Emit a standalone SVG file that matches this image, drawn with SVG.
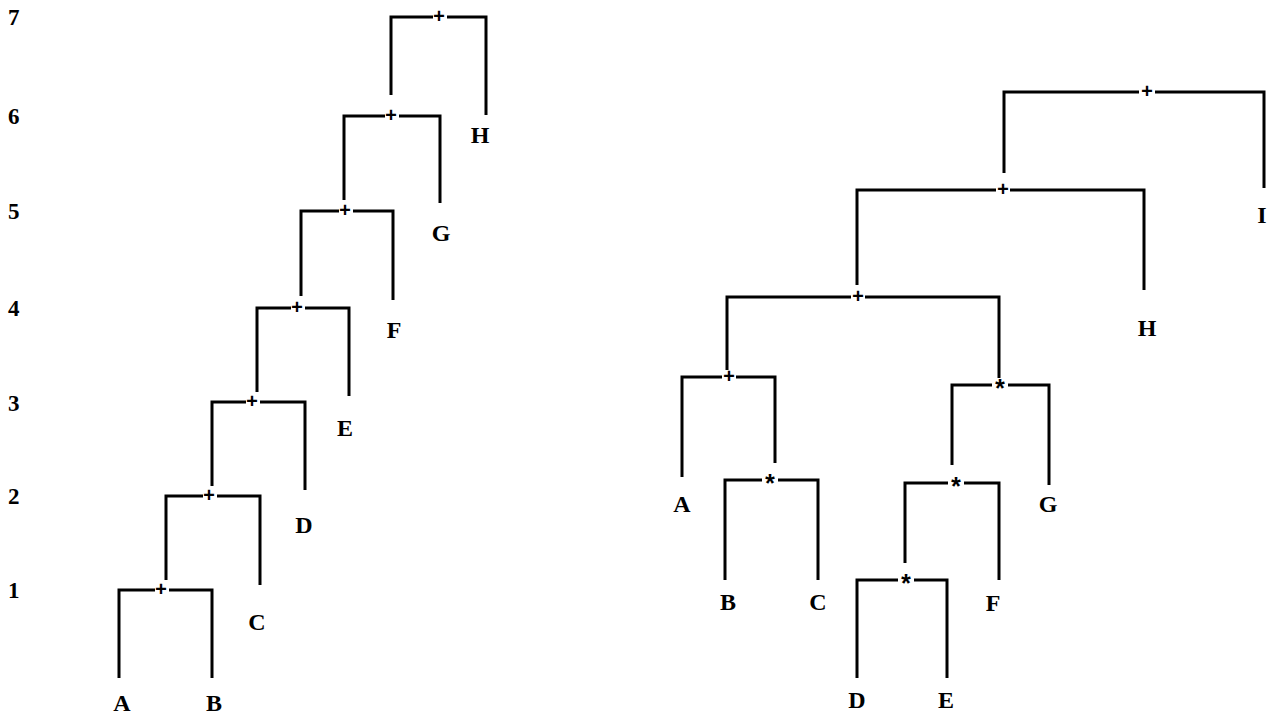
<svg xmlns="http://www.w3.org/2000/svg" width="1279" height="717" viewBox="0 0 1279 717">
  <style>
    .br { fill: none; stroke: #000; stroke-width: 3; stroke-linejoin: miter; stroke-linecap: butt; }
    .lbl { font-family: "Liberation Serif", "DejaVu Serif", serif; font-size: 24px; font-weight: bold; fill: #000; text-anchor: middle; }
    .op { font-family: "Liberation Mono", "DejaVu Sans Mono", monospace; font-size: 20px; font-weight: bold; fill: #000; text-anchor: middle; }
    .mul { font-family: "Liberation Mono", "DejaVu Sans Mono", monospace; font-size: 25px; font-weight: bold; fill: #000; text-anchor: middle; }
    .lvl { font-family: "Liberation Serif", "DejaVu Serif", serif; font-size: 23px; font-weight: bold; fill: #000; }
  </style>
  <rect width="1279" height="717" fill="#fff"/>

  <!-- level numbers -->
  <g id="levels">
    <text class="lvl" x="8" y="25">7</text>
    <text class="lvl" x="8" y="124">6</text>
    <text class="lvl" x="8" y="219">5</text>
    <text class="lvl" x="8" y="316">4</text>
    <text class="lvl" x="8" y="411">3</text>
    <text class="lvl" x="8" y="504">2</text>
    <text class="lvl" x="8" y="598">1</text>
  </g>

  <!-- brackets (connectors) -->
  <g id="connectors">
    <!-- left chain of sums -->
    <path class="br" d="M119,678 V590 H155 M169,590 H212 V678"/>
    <path class="br" d="M166,580 V496 H203 M217,496 H260 V585"/>
    <path class="br" d="M212,486 V402 H246 M260,402 H305 V490"/>
    <path class="br" d="M257,392 V308 H291 M305,308 H349 V396"/>
    <path class="br" d="M301,296 V211 H339 M353,211 H393 V300"/>
    <path class="br" d="M344,200 V116 H385 M399,116 H440 V203"/>
    <path class="br" d="M391,95 V17 H433 M447,17 H486 V115"/>
    <!-- right tree -->
    <path class="br" d="M1004,173 V92 H1139 M1155,92 H1264 V188"/>
    <path class="br" d="M857,285 V190 H996 M1010,190 H1144 V290"/>
    <path class="br" d="M727,370 V297 H851 M865,297 H999 V378"/>
    <path class="br" d="M682,477 V377 H722 M736,377 H775 V463"/>
    <path class="br" d="M725,580 V480 H762 M778,480 H818 V580"/>
    <path class="br" d="M952,465 V385 H992 M1008,385 H1049 V485"/>
    <path class="br" d="M905,563 V483 H948 M964,483 H999 V580"/>
    <path class="br" d="M857,678 V580 H898 M914,580 H947 V678"/>
  </g>

  <!-- left tree nodes -->
  <g id="l1"><text class="op" x="161" y="596">+</text><text class="lbl" x="122" y="711">A</text><text class="lbl" x="214" y="711">B</text></g>
  <g id="l2"><text class="op" x="209" y="502">+</text><text class="lbl" x="257" y="630">C</text></g>
  <g id="l3"><text class="op" x="252" y="408">+</text><text class="lbl" x="304" y="533">D</text></g>
  <g id="l4"><text class="op" x="297" y="314">+</text><text class="lbl" x="345" y="436">E</text></g>
  <g id="l5"><text class="op" x="345" y="217">+</text><text class="lbl" x="394" y="338">F</text></g>
  <g id="l6"><text class="op" x="391" y="122">+</text><text class="lbl" x="441" y="241">G</text></g>
  <g id="l7"><text class="op" x="439" y="23">+</text><text class="lbl" x="480" y="143">H</text></g>

  <!-- right tree nodes -->
  <g id="r1"><text class="op" x="1147" y="98">+</text><text class="lbl" x="1262" y="223">I</text></g>
  <g id="r2"><text class="op" x="1003" y="196">+</text><text class="lbl" x="1147" y="336">H</text></g>
  <g id="r3"><text class="op" x="858" y="303">+</text></g>
  <g id="r4"><text class="op" x="729" y="383">+</text><text class="lbl" x="682" y="512">A</text></g>
  <g id="r5"><text class="mul" x="770" y="493">*</text><text class="lbl" x="728" y="610">B</text><text class="lbl" x="818" y="610">C</text></g>
  <g id="r6"><text class="mul" x="1000" y="398">*</text><text class="lbl" x="1048" y="512">G</text></g>
  <g id="r7"><text class="mul" x="956" y="496">*</text><text class="lbl" x="993" y="611">F</text></g>
  <g id="r8"><text class="mul" x="906" y="593">*</text><text class="lbl" x="857" y="708">D</text><text class="lbl" x="946" y="708">E</text></g>
</svg>
